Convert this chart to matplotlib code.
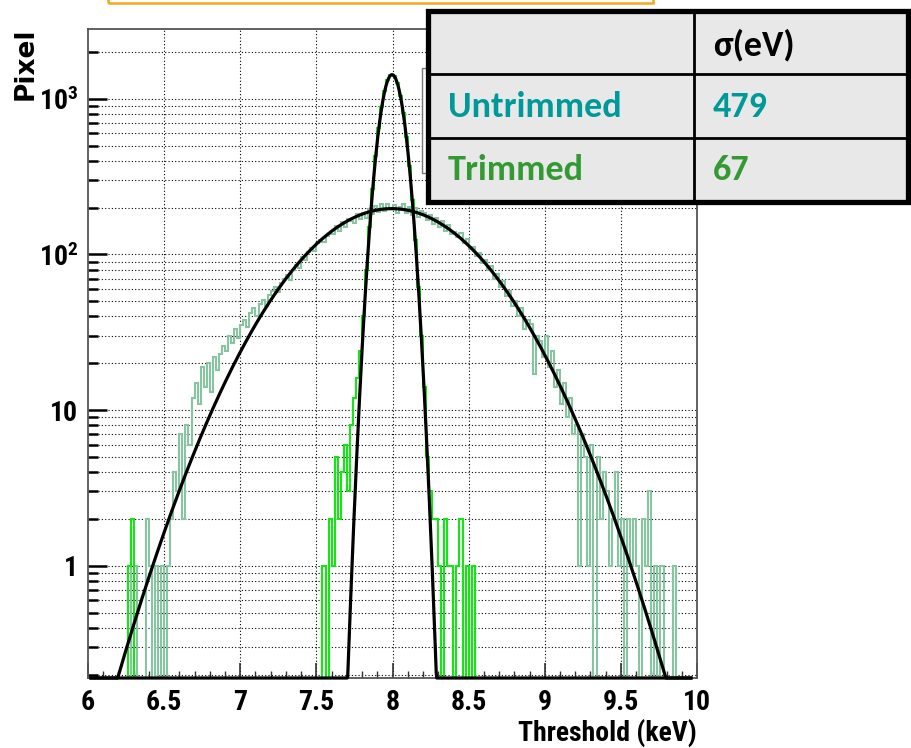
import numpy as np
import matplotlib
matplotlib.use('Agg')
from matplotlib import pyplot as plt
from matplotlib.patches import Rectangle
from matplotlib.lines import Line2D
from matplotlib.ticker import FixedLocator, NullFormatter

# histogram counts (0.02 keV bins)
bin_width = 0.02
x_lo, x_hi = 6.0, 10.0

untrim_start = 6.20
untrim_counts = [
    0, 0, 0, 1, 0, 1, 0, 0, 0, 2,
    1, 0, 1, 0, 1, 0, 1, 2, 4, 3,
    7, 2, 8, 6, 12, 15, 11, 19, 14, 20,
    13, 22, 18, 23, 26, 24, 30, 27, 33, 29,
    35, 38, 34, 42, 45, 40, 48, 51, 47, 55,
    58, 62, 57, 66, 70, 74, 69, 80, 85, 82,
    96, 92, 104, 110, 106, 118, 124, 120, 131, 136,
    136, 152, 142, 162, 150, 170, 164, 160, 182, 170,
    185, 172, 196, 182, 204, 188, 210, 190, 212, 195,
    208, 186, 203, 212, 184, 202, 178, 198, 174, 190,
    186, 166, 180, 158, 172, 150, 164, 142, 154, 135,
    140, 130, 138, 118, 126, 108, 112, 98, 102, 88,
    92, 80, 84, 70, 75, 62, 68, 54, 58, 47,
    50, 40, 45, 33, 38, 36, 17, 30, 28, 22,
    30, 19, 24, 14, 18, 11, 15, 9, 12, 7,
    8, 1, 7, 5, 1, 6, 0, 5, 2, 4,
    3, 1, 2, 4, 1, 2, 0, 2, 1, 2,
    1, 0, 2, 1, 3, 0, 1, 0, 1, 0,
    0, 0, 1, 0, 0, 0, 0, 0, 0, 0,
]

trim_start = 7.54
trim_counts = [
    1, 0, 2, 1, 5, 2, 4, 6, 3, 8,
    12, 16, 24, 40, 80, 150, 262, 430, 645, 880,
    1120, 1320, 1430, 1400, 1262, 1050, 815, 570, 370, 225,
    124, 62, 30, 14, 5, 3, 2, 2, 1, 0,
    2, 1, 1, 0, 1, 2, 0, 1, 0, 1,
]
trim_low_edges = [6.26, 6.28]
trim_low_counts = [1, 2]

# gaussian fit parameters (amplitude, mean keV, sigma keV)
untrim_fit = (197, 7.995, 0.483)
trim_fit = (1430, 7.997, 0.069)
fit_range = (6.02, 9.96)

x_ticks = [6, 6.5, 7, 7.5, 8, 8.5, 9, 9.5, 10]
x_ticklabels = ['6', '6.5', '7', '7.5', '8', '8.5', '9', '9.5', '10']
y_ticks = [1, 10, 100, 1000]
y_ticklabels = ['1', '10', r'$\mathbf{10^{2}}$', r'$\mathbf{10^{3}}$']

table_header = 'σ(eV)'
table_names = ['Untrimmed', 'Trimmed']
table_sigma = ['479', '67']
table_colors = ['#009999', '#339933']

y_min, y_max = 0.19, 2810

# ROOT-like condensed bold for the axes, Calibri-like for the table
axis_font = ['Roboto Condensed', 'Liberation Sans']
table_font = ['Carlito', 'Open Sans']
plt.rcParams['mathtext.fontset'] = 'custom'
plt.rcParams['mathtext.bf'] = 'Roboto Condensed:bold'
plt.rcParams['mathtext.rm'] = 'Roboto Condensed:bold'


def full_hist(start, counts):
    arr = np.zeros(int(round((x_hi - x_lo) / bin_width)))
    i0 = int(round((start - x_lo) / bin_width))
    arr[i0:i0 + len(counts)] = counts
    return arr


def gauss(x, p):
    a, m, s = p
    return a * np.exp(-(x - m) ** 2 / (2 * s * s))


edges = x_lo + bin_width * np.arange(int(round((x_hi - x_lo) / bin_width)) + 1)
h_untrim = full_hist(untrim_start, untrim_counts)
h_trim = full_hist(trim_start, trim_counts)
for e, c in zip(trim_low_edges, trim_low_counts):
    h_trim[int(round((e - x_lo) / bin_width))] = c

fig = plt.figure(figsize=(9.12, 7.48), dpi=100)
ax = fig.add_axes([88 / 912, 70 / 748, (697 - 88) / 912, (678 - 29) / 748])
ax.set_yscale('log')
ax.set_xlim(x_lo, x_hi)
ax.set_ylim(y_min, y_max)

# empty bins go to the floor like in ROOT
ax.stairs(np.where(h_untrim > 0, h_untrim, 1e-3), edges, baseline=None,
          color='#86c4a2', lw=1.5, zorder=3)
ax.stairs(np.where(h_trim > 0, h_trim, 1e-3), edges, baseline=None,
          color='#14e614', lw=1.5, zorder=4)

xf = np.linspace(fit_range[0], fit_range[1], 1200)
for p in (untrim_fit, trim_fit):
    ax.plot(xf, np.maximum(gauss(xf, p), y_min), color='black', lw=2.3,
            zorder=5, clip_on=False)

# grid: dotted at major x and every y minor/major
dot = (0, (1, 2))
for xv in x_ticks[1:-1]:
    ax.axvline(xv, color='black', lw=0.8, ls=dot, zorder=1)
ygrid = [m * 10.0 ** d for d in range(-1, 4) for m in range(1, 10)]
for yv in ygrid:
    if y_min < yv < y_max:
        ax.axhline(yv, color='black', lw=0.8, ls=dot, zorder=1)

ax.xaxis.set_major_locator(FixedLocator(x_ticks))
ax.xaxis.set_minor_locator(FixedLocator(np.round(np.arange(6.1, 10.0, 0.1), 2)))
ax.set_xticklabels(x_ticklabels)
ax.yaxis.set_major_locator(FixedLocator(y_ticks))
ax.yaxis.set_minor_locator(FixedLocator([v for v in ygrid if v not in y_ticks]))
ax.set_yticklabels(y_ticklabels)
ax.yaxis.set_minor_formatter(NullFormatter())
ax.tick_params(axis='both', which='both', direction='in', top=False, right=False)
ax.tick_params(axis='x', which='major', length=11, width=1.2, pad=8, colors='#333333',
               labelcolor='black')
ax.tick_params(axis='x', which='minor', length=5, width=1.0, colors='#333333')
ax.tick_params(axis='y', which='major', length=14, width=1.8, pad=7)
ax.tick_params(axis='y', which='minor', length=7, width=1.8)
for lab in ax.get_xticklabels() + ax.get_yticklabels():
    lab.set_fontfamily(axis_font)
    lab.set_fontweight('bold')
    lab.set_fontsize(20)
for s in ax.spines.values():
    s.set_color('#555555')
    s.set_linewidth(1.3)

fig.text(697 / 912, 1 - 733 / 748, 'Threshold (keV)', ha='right', va='center',
         fontsize=20, fontweight='bold', family=axis_font)
fig.text(26 / 912, 1 - 27 / 748, 'Pixel', rotation=90, ha='center', va='top',
         fontsize=19, fontweight='bold', family='DejaVu Sans')

# orange frame peeking at the top
fig.add_artist(Rectangle((108 / 912, 1 - 3 / 748), (653 - 108) / 912, 0.05,
                         transform=fig.transFigure, fill=False,
                         edgecolor='#f5a81c', lw=1.8, clip_on=False))

# stat box hidden behind the table
fig.add_artist(Rectangle((422 / 912, 1 - 173 / 748), 0.05, (173 - 68) / 748,
                         transform=fig.transFigure, facecolor='white',
                         edgecolor='#777777', lw=1.0, zorder=6))

# sigma table
tx0, tx1, txm = 428 / 912, 908 / 912, 694 / 912
ty0, ty1 = 1 - 202 / 748, 1 - 11 / 748
row_lines = [1 - 74 / 748, 1 - 138 / 748]
fig.add_artist(Rectangle((tx0, ty0), tx1 - tx0, ty1 - ty0, transform=fig.transFigure,
                         facecolor='#e8e8e8', edgecolor='black', lw=3.8, zorder=7))
fig.add_artist(Line2D([txm, txm], [ty0, ty1], transform=fig.transFigure,
                      color='black', lw=2.0, zorder=8))
for ry in row_lines:
    fig.add_artist(Line2D([tx0, tx1], [ry, ry], transform=fig.transFigure,
                          color='black', lw=2.0, zorder=8))

tfont = dict(family=table_font, fontweight='bold', fontsize=26, va='center', zorder=9)
fig.text(713 / 912, 1 - 45 / 748, table_header, color='black', **tfont)
row_y = [1 - 107 / 748, 1 - 170 / 748]
for name, sig, col, ry in zip(table_names, table_sigma, table_colors, row_y):
    fig.text(448 / 912, ry, name, color=col, **tfont)
    fig.text(713 / 912, ry, sig, color=col, **tfont)

fig.savefig('out.png', dpi=100)
